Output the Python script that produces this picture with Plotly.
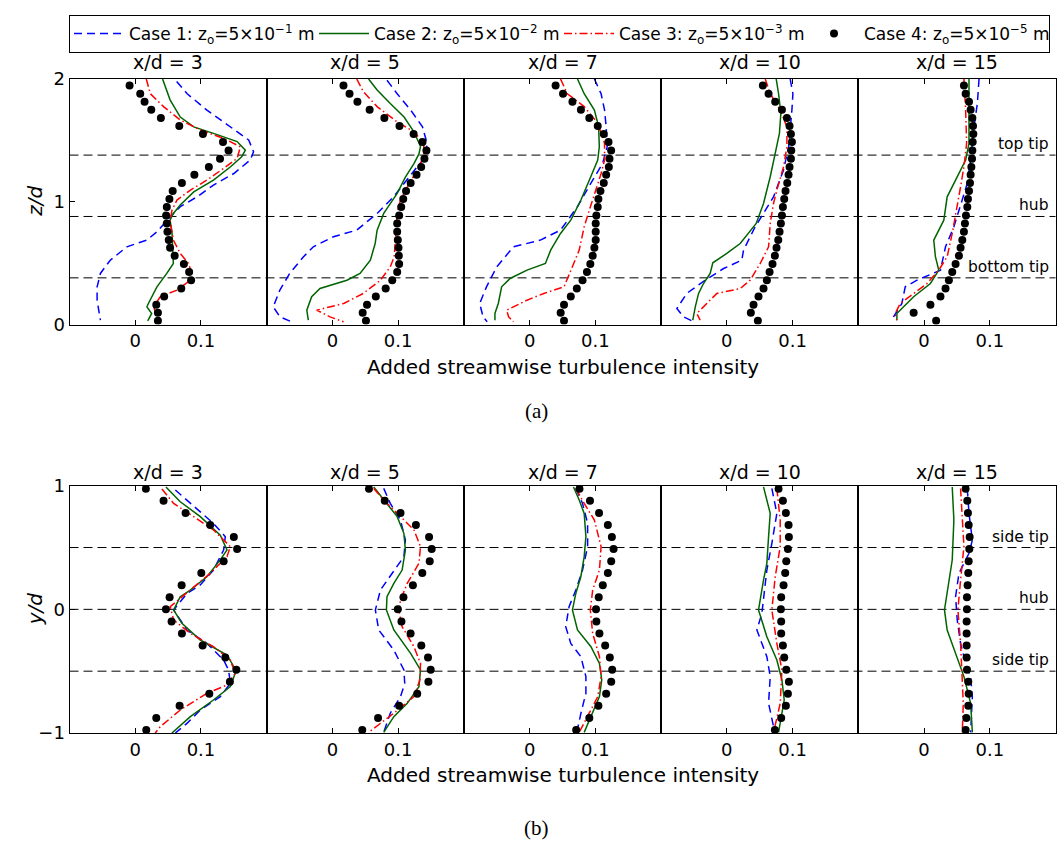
import plotly.graph_objects as go

# ---------------------------------------------------------------------------
# Data: added streamwise turbulence intensity profiles
# Lines are (value, height) pairs; LES dots share a common height grid.
# ---------------------------------------------------------------------------
downstream = ["3", "5", "7", "10", "15"]

# vertical profiles (z/d) -------------------------------------------------
z_dots = [1.948, 1.880, 1.815, 1.750, 1.682, 1.617, 1.552, 1.486, 1.418, 1.350,
          1.283, 1.220, 1.152, 1.087, 1.022, 0.957, 0.889, 0.823, 0.755, 0.688,
          0.625, 0.560, 0.492, 0.427, 0.361, 0.293, 0.228, 0.160, 0.095, 0.030]

v3_case1 = [(0.063, 1.98), (0.079, 1.88), (0.109, 1.747), (0.145, 1.61), (0.1726, 1.503),
            (0.180, 1.408), (0.175, 1.34), (0.150, 1.23), (0.119, 1.136), (0.094, 1.04),
            (0.0685, 0.96), (0.051, 0.864), (0.033, 0.755), (0.0178, 0.688), (-0.0127, 0.633),
            (-0.038, 0.524), (-0.053, 0.416), (-0.058, 0.307), (-0.058, 0.198), (-0.053, 0.035)]
v3_case2 = [(0.0416, 2.0), (0.053, 1.83), (0.0685, 1.69), (0.089, 1.61), (0.119, 1.557),
            (0.155, 1.49), (0.1675, 1.42), (0.162, 1.367), (0.145, 1.285), (0.119, 1.177),
            (0.089, 1.08), (0.0685, 0.973), (0.058, 0.905), (0.053, 0.85), (0.056, 0.742),
            (0.057, 0.633), (0.058, 0.497), (0.048, 0.416), (0.033, 0.307), (0.020, 0.171),
            (0.0178, 0.144), (0.025, 0.09), (0.019, 0.03)]
v3_case3 = [(0.0168, 2.0), (0.023, 1.88), (0.043, 1.775), (0.0685, 1.666), (0.099, 1.584),
            (0.1345, 1.516), (0.160, 1.448), (0.155, 1.353), (0.1345, 1.272), (0.109, 1.177),
            (0.084, 1.095), (0.0635, 1.014), (0.056, 0.932), (0.053, 0.85), (0.058, 0.688),
            (0.0685, 0.579), (0.081, 0.497), (0.086, 0.416), (0.0838, 0.361), (0.0635, 0.28),
            (0.038, 0.226), (0.028, 0.144), (0.033, 0.0625), (0.038, 0.008)]
v3_case4 = [-0.0086, 0.0076, 0.0142, 0.0244, 0.039, 0.067, 0.103, 0.1335, 0.142, 0.129,
            0.112, 0.090, 0.071, 0.057, 0.052, 0.048, 0.047, 0.048, 0.049, 0.051,
            0.053, 0.060, 0.074, 0.082, 0.085, 0.070, 0.044, 0.032, 0.0345, 0.0345]

v5_case1 = [(0.083, 1.99), (0.0985, 1.88), (0.119, 1.747), (0.137, 1.61), (0.144, 1.476),
            (0.142, 1.367), (0.129, 1.285), (0.109, 1.15), (0.093, 1.04), (0.068, 0.905),
            (0.037, 0.769), (0.0015, 0.715), (-0.029, 0.633), (-0.044, 0.552), (-0.065, 0.416),
            (-0.080, 0.28), (-0.090, 0.144), (-0.080, 0.0625), (-0.062, 0.022)]
v5_case2 = [(0.055, 2.0), (0.068, 1.91), (0.088, 1.80), (0.109, 1.69), (0.124, 1.57),
            (0.134, 1.45), (0.1316, 1.39), (0.124, 1.31), (0.111, 1.20), (0.0985, 1.068),
            (0.078, 0.905), (0.068, 0.769), (0.065, 0.66), (0.0577, 0.524), (0.042, 0.416),
            (0.022, 0.361), (-0.0189, 0.293), (-0.0316, 0.226), (-0.039, 0.117), (-0.0367, 0.035)]
v5_case3 = [(0.037, 2.0), (0.047, 1.897), (0.068, 1.775), (0.098, 1.652), (0.124, 1.57),
            (0.139, 1.476), (0.139, 1.367), (0.129, 1.258), (0.114, 1.122), (0.1036, 1.014),
            (0.0985, 0.905), (0.096, 0.742), (0.094, 0.552), (0.088, 0.47), (0.073, 0.361),
            (0.047, 0.253), (0.017, 0.171), (-0.024, 0.117), (-0.0036, 0.0625), (0.017, 0.022)]
v5_case4 = [0.0168, 0.026, 0.038, 0.0566, 0.079, 0.102, 0.1235, 0.137, 0.143, 0.140,
            0.135, 0.128, 0.119, 0.112, 0.1077, 0.1046, 0.1015, 0.0985, 0.0985, 0.0995,
            0.1005, 0.101, 0.1015, 0.0985, 0.091, 0.081, 0.066, 0.0526, 0.046, 0.051]

v7_case1 = [(0.0985, 2.0), (0.1087, 1.88), (0.114, 1.747), (0.1164, 1.61), (0.118, 1.448),
            (0.111, 1.312), (0.093, 1.15), (0.0728, 0.96), (0.047, 0.769), (0.0164, 0.688),
            (-0.0246, 0.633), (-0.050, 0.47), (-0.0656, 0.307), (-0.076, 0.171),
            (-0.0708, 0.0625), (-0.0646, 0.022)]
v7_case2 = [(0.0728, 2.0), (0.083, 1.88), (0.0985, 1.747), (0.105, 1.61), (0.106, 1.448),
            (0.1036, 1.34), (0.093, 1.204), (0.078, 1.014), (0.0626, 0.85), (0.047, 0.742),
            (0.032, 0.606), (0.024, 0.497), (-0.004, 0.443), (-0.0297, 0.375), (-0.0426, 0.307),
            (-0.0477, 0.171), (-0.0528, 0.0897), (-0.0528, 0.035)]
v7_case3 = [(0.047, 2.0), (0.0574, 1.88), (0.083, 1.775), (0.1036, 1.64), (0.114, 1.476),
            (0.114, 1.34), (0.1087, 1.23), (0.0985, 1.068), (0.0908, 0.932), (0.083, 0.796),
            (0.0754, 0.606), (0.065, 0.47), (0.0523, 0.307), (0.0215, 0.253), (-0.004, 0.198),
            (-0.035, 0.117), (-0.032, 0.0625), (-0.0246, 0.022)]
v7_case4 = [0.0395, 0.0508, 0.0651, 0.078, 0.0908, 0.1036, 0.1128, 0.12, 0.124, 0.1215,
            0.1205, 0.1164, 0.1128, 0.1077, 0.1046, 0.1036, 0.1015, 0.1005, 0.1005, 0.1005,
            0.0985, 0.0959, 0.0923, 0.0872, 0.0805, 0.0718, 0.0626, 0.0523, 0.0472, 0.0523]

v10_case1 = [(0.0964, 2.0), (0.1005, 1.88), (0.099, 1.747), (0.0964, 1.61), (0.094, 1.448),
             (0.0863, 1.258), (0.071, 1.04), (0.0558, 0.905), (0.0431, 0.796), (0.0254, 0.606),
             (0.0228, 0.524), (-0.005, 0.456), (-0.033, 0.361), (-0.061, 0.253), (-0.076, 0.13),
             (-0.066, 0.0625), (-0.053, 0.03)]
v10_case2 = [(0.0751, 2.0), (0.0787, 1.88), (0.0822, 1.72), (0.080, 1.557), (0.0736, 1.394),
             (0.066, 1.204), (0.0558, 0.986), (0.0447, 0.823), (0.0203, 0.66), (0.0, 0.579),
             (-0.0213, 0.503), (-0.0254, 0.416), (-0.0355, 0.334), (-0.043, 0.253),
             (-0.048, 0.144), (-0.0518, 0.035)]
v10_case3 = [(0.0584, 2.0), (0.066, 1.88), (0.0812, 1.747), (0.0914, 1.61), (0.0914, 1.448),
             (0.0863, 1.285), (0.0761, 1.095), (0.071, 0.986), (0.066, 0.823), (0.0635, 0.633),
             (0.0508, 0.497), (0.0355, 0.361), (0.0203, 0.293), (-0.0152, 0.253),
             (-0.0305, 0.171), (-0.0457, 0.0897), (-0.0406, 0.035)]
v10_case4 = [0.0548, 0.0635, 0.0736, 0.0838, 0.0914, 0.0954, 0.0975, 0.099, 0.098, 0.0975,
             0.0954, 0.0939, 0.0919, 0.0893, 0.0873, 0.0853, 0.0838, 0.0822, 0.0802, 0.0782,
             0.0756, 0.0731, 0.0695, 0.065, 0.0609, 0.0558, 0.0482, 0.0406, 0.0365, 0.0472]

v15_case1 = [(0.0837, 2.0), (0.0811, 1.80), (0.076, 1.61), (0.0709, 1.34), (0.0658, 1.15),
             (0.0582, 1.014), (0.0454, 0.796), (0.0327, 0.633), (0.025, 0.443), (-0.0107, 0.361),
             (-0.0286, 0.307), (-0.0337, 0.171), (-0.0464, 0.0625), (-0.049, 0.022)]
v15_case2 = [(0.0684, 2.0), (0.0684, 1.747), (0.0684, 1.476), (0.0633, 1.34), (0.0505, 1.204),
             (0.0352, 1.04), (0.0301, 0.85), (0.0148, 0.688), (0.0173, 0.552), (0.0224, 0.443),
             (0.0097, 0.334), (-0.0158, 0.226), (-0.0311, 0.144), (-0.0413, 0.0897),
             (-0.0413, 0.035)]
v15_case3 = [(0.0607, 2.0), (0.0633, 1.747), (0.0648, 1.476), (0.0607, 1.285), (0.0556, 1.122),
             (0.0505, 0.96), (0.0429, 0.742), (0.0352, 0.552), (0.0224, 0.443), (0.0046, 0.334),
             (-0.0158, 0.253), (-0.0362, 0.171), (-0.0439, 0.0897), (-0.0413, 0.035)]
v15_case4 = [0.0607, 0.0633, 0.0684, 0.0709, 0.0735, 0.0745, 0.075, 0.074, 0.0735, 0.073,
             0.072, 0.0709, 0.0699, 0.0684, 0.0668, 0.0658, 0.0638, 0.0622, 0.0607, 0.0582,
             0.0556, 0.0531, 0.048, 0.0429, 0.0378, 0.0327, 0.025, 0.0097, -0.0158, 0.0184]

# spanwise profiles (y/d) -------------------------------------------------
y_dots = [0.975, 0.878, 0.780, 0.683, 0.585, 0.488, 0.390, 0.293, 0.195, 0.098, 0.0,
          -0.098, -0.195, -0.293, -0.390, -0.488, -0.585, -0.683, -0.780, -0.878, -0.975]

h3_case1 = [(0.061, 0.965), (0.0838, 0.857), (0.119, 0.695), (0.137, 0.588), (0.1345, 0.48),
            (0.119, 0.318), (0.099, 0.197), (0.0787, 0.129), (0.0584, -0.005), (0.0787, -0.167),
            (0.109, -0.275), (0.1345, -0.41), (0.142, -0.49), (0.1447, -0.598), (0.1294, -0.706),
            (0.099, -0.814), (0.0787, -0.922), (0.061, -1.0)]
h3_case2 = [(0.0467, 0.99), (0.0685, 0.87), (0.099, 0.75), (0.1294, 0.60), (0.1396, 0.48),
            (0.1294, 0.40), (0.109, 0.264), (0.0838, 0.156), (0.0685, 0.102), (0.0584, -0.005),
            (0.071, -0.113), (0.099, -0.248), (0.1396, -0.369), (0.150, -0.464), (0.152, -0.518),
            (0.1447, -0.625), (0.119, -0.733), (0.0838, -0.868), (0.0558, -1.0)]
h3_case3 = [(0.0406, 0.973), (0.0584, 0.857), (0.0888, 0.75), (0.119, 0.642), (0.1447, 0.507),
            (0.1396, 0.426), (0.114, 0.291), (0.0838, 0.156), (0.0533, 0.022), (0.0584, -0.086),
            (0.0838, -0.194), (0.119, -0.302), (0.1447, -0.41), (0.152, -0.518), (0.1396, -0.612),
            (0.109, -0.679), (0.0685, -0.814), (0.038, -0.949), (0.0305, -1.0)]
h3_case4 = [0.0162, 0.0431, 0.0766, 0.114, 0.150, 0.155, 0.1345, 0.1005, 0.0706, 0.0523, 0.0467,
            0.0553, 0.071, 0.1025, 0.137, 0.1538, 0.144, 0.1127, 0.0675, 0.032, 0.0168]

h5_case1 = [(0.078, 0.978), (0.088, 0.857), (0.1036, 0.722), (0.111, 0.56), (0.1087, 0.426),
            (0.088, 0.264), (0.073, 0.156), (0.0653, -0.005), (0.0704, -0.167), (0.0934, -0.329),
            (0.1087, -0.49), (0.11, -0.598), (0.1036, -0.706), (0.088, -0.84), (0.078, -0.995)]
h5_case2 = [(0.0628, 0.99), (0.083, 0.857), (0.0985, 0.75), (0.1087, 0.615), (0.111, 0.48),
            (0.106, 0.318), (0.0934, 0.21), (0.083, 0.102), (0.0821, -0.005), (0.0934, -0.167),
            (0.1189, -0.356), (0.134, -0.49), (0.1316, -0.625), (0.1138, -0.76), (0.0934, -0.868),
            (0.078, -0.995)]
h5_case3 = [(0.0628, 0.978), (0.078, 0.884), (0.1036, 0.75), (0.124, 0.642), (0.134, 0.507),
            (0.1316, 0.372), (0.1138, 0.21), (0.1036, 0.075), (0.101, -0.005), (0.106, -0.14),
            (0.124, -0.302), (0.134, -0.437), (0.133, -0.571), (0.124, -0.706), (0.0934, -0.84),
            (0.0628, -0.962), (0.055, -0.995)]
h5_case4 = [0.0556, 0.0796, 0.1036, 0.127, 0.147, 0.151, 0.148, 0.1367, 0.1224, 0.108, 0.0995,
            0.105, 0.1189, 0.1352, 0.1454, 0.1495, 0.146, 0.129, 0.1015, 0.0694, 0.0454]

h7_case1 = [(0.0703, 0.978), (0.0805, 0.857), (0.0882, 0.695), (0.0882, 0.507), (0.0805, 0.318),
            (0.0703, 0.156), (0.06, 0.022), (0.0549, -0.14), (0.0626, -0.275), (0.078, -0.383),
            (0.0856, -0.544), (0.0856, -0.679), (0.078, -0.84), (0.0718, -0.995)]
h7_case2 = [(0.0667, 0.99), (0.0754, 0.884), (0.083, 0.776), (0.0856, 0.588), (0.083, 0.426),
            (0.0779, 0.264), (0.0703, 0.129), (0.0651, -0.005), (0.0728, -0.167), (0.0933, -0.302),
            (0.1062, -0.437), (0.1097, -0.571), (0.1062, -0.706), (0.0959, -0.84), (0.083, -0.995)]
h7_case3 = [(0.0703, 0.978), (0.083, 0.857), (0.0985, 0.722), (0.1087, 0.507), (0.1062, 0.318),
            (0.0959, 0.156), (0.0923, -0.005), (0.0959, -0.194), (0.1062, -0.383), (0.1087, -0.544),
            (0.1036, -0.706), (0.0882, -0.868), (0.0754, -0.995)]
h7_case4 = [0.0759, 0.0918, 0.1056, 0.119, 0.1251, 0.1277, 0.1241, 0.119, 0.1113, 0.1051, 0.101,
            0.1015, 0.1062, 0.1149, 0.122, 0.1256, 0.1241, 0.1164, 0.1046, 0.0908, 0.0708]

h10_case1 = [(0.0685, 0.978), (0.0761, 0.776), (0.0685, 0.534), (0.0609, 0.318), (0.0533, -0.032),
             (0.0457, -0.167), (0.0609, -0.383), (0.066, -0.544), (0.0635, -0.76), (0.0711, -0.949)]
h10_case2 = [(0.0558, 0.99), (0.066, 0.776), (0.0635, 0.588), (0.0609, 0.372), (0.0558, 0.237),
             (0.0482, -0.005), (0.0609, -0.221), (0.0761, -0.41), (0.0838, -0.571), (0.0873, -0.733),
             (0.0787, -0.995)]
h10_case3 = [(0.0761, 0.978), (0.0812, 0.722), (0.0812, 0.507), (0.0736, 0.264), (0.0685, -0.005),
             (0.0761, -0.275), (0.0838, -0.49), (0.0812, -0.76), (0.0711, -0.995)]
h10_case4 = [0.0787, 0.0853, 0.0898, 0.0939, 0.0944, 0.0929, 0.0904, 0.0888, 0.0863, 0.0827, 0.0822,
             0.0827, 0.0827, 0.0853, 0.0873, 0.0904, 0.0944, 0.0929, 0.0898, 0.0827, 0.0731]

h15_case1 = [(0.0658, 0.978), (0.0684, 0.776), (0.0735, 0.56), (0.0684, 0.453), (0.0531, 0.291),
             (0.048, 0.102), (0.0505, -0.086), (0.0556, -0.275), (0.0633, -0.437), (0.0709, -0.544),
             (0.0735, -0.706), (0.0709, -0.995)]
h15_case2 = [(0.0429, 0.99), (0.0454, 0.722), (0.0429, 0.399), (0.0352, 0.156), (0.0311, -0.005),
             (0.0352, -0.167), (0.048, -0.356), (0.0607, -0.544), (0.0709, -0.76), (0.0735, -0.995)]
h15_case3 = [(0.0556, 0.978), (0.0582, 0.776), (0.0607, 0.507), (0.0556, 0.237), (0.0515, -0.005),
             (0.0556, -0.275), (0.0582, -0.544), (0.0597, -0.76), (0.0582, -0.995)]
h15_case4 = [0.0633, 0.0658, 0.0668, 0.0679, 0.0694, 0.0689, 0.0679, 0.0673, 0.0663, 0.0653, 0.0653,
             0.0648, 0.0648, 0.0648, 0.0648, 0.0653, 0.0673, 0.0679, 0.0673, 0.0643, 0.0633]

case_names = ["Case 1: z<sub>o</sub>=5×10<sup>−1</sup> m",
              "Case 2: z<sub>o</sub>=5×10<sup>−2</sup> m",
              "Case 3: z<sub>o</sub>=5×10<sup>−3</sup> m",
              "Case 4: z<sub>o</sub>=5×10<sup>−5</sup> m"]

vertical_marks = [0.38, 0.88, 1.38]
vertical_labels = ["bottom tip", "hub", "top tip"]
spanwise_marks = [-0.5, 0.0, 0.5]
spanwise_labels = ["side tip", "hub", "side tip"]

# ---------------------------------------------------------------------------
# Layout geometry (pixels of a 1057 x 848 page)
# ---------------------------------------------------------------------------
W, H = 1057, 848
FONT = "DejaVu Sans"
col_edges = [69.5, 266.7, 463.9, 661.1, 858.3, 1055.5]
row_spans = [(79.0, 324.5), (485.7, 733.0)]
title_gap = [4, 1]


def fx(p):
    return p / W


def fy(p):
    return 1 - p / H


line_styles = [
    dict(color="#0000ff", width=1.5, dash="8px,5px"),
    dict(color="#006400", width=1.5),
    dict(color="#ff0000", width=1.5, dash="8px,3px,1.5px,3px"),
]

rows = [
    dict(profiles=[(v3_case1, v3_case2, v3_case3, v3_case4),
                   (v5_case1, v5_case2, v5_case3, v5_case4),
                   (v7_case1, v7_case2, v7_case3, v7_case4),
                   (v10_case1, v10_case2, v10_case3, v10_case4),
                   (v15_case1, v15_case2, v15_case3, v15_case4)],
         grid=z_dots, yrange=[0, 2], yticks=[0, 1, 2], title="<i>z/d</i>",
         marks=vertical_marks, labels=vertical_labels, tag="(a)", tag_y=411),
    dict(profiles=[(h3_case1, h3_case2, h3_case3, h3_case4),
                   (h5_case1, h5_case2, h5_case3, h5_case4),
                   (h7_case1, h7_case2, h7_case3, h7_case4),
                   (h10_case1, h10_case2, h10_case3, h10_case4),
                   (h15_case1, h15_case2, h15_case3, h15_case4)],
         grid=y_dots, yrange=[-1, 1], yticks=[-1, 0, 1], title="<i>y/d</i>",
         marks=spanwise_marks, labels=spanwise_labels, tag="(b)", tag_y=828),
]

fig = go.Figure()
layout = dict(
    width=W, height=H,
    margin=dict(l=0, r=0, t=0, b=0, autoexpand=False),
    paper_bgcolor="white", plot_bgcolor="rgba(0,0,0,0)",
    font=dict(family=FONT, size=18, color="black"),
    showlegend=True,
    legend=dict(orientation="h", x=fx(69), y=fy(15), xanchor="left", yanchor="top",
                bordercolor="black", borderwidth=1, bgcolor="white",
                font=dict(family=FONT, size=17), entrywidth=180, entrywidthmode="pixels",
                itemwidth=50),
)
shapes, annotations = [], []

for r, row in enumerate(rows):
    top_px, bot_px = row_spans[r]
    for c, profile in enumerate(row["profiles"]):
        n = r * 5 + c + 1
        xs, ys = f"x{n}", f"y{n}"
        xkey = "xaxis" if n == 1 else f"xaxis{n}"
        ykey = "yaxis" if n == 1 else f"yaxis{n}"
        layout[xkey] = dict(
            domain=[fx(col_edges[c]), fx(col_edges[c + 1])], anchor=ys,
            range=[-0.1, 0.2], tickvals=[0, 0.1], ticktext=["0", "0.1"],
            ticks="inside", ticklen=5, tickcolor="black", showline=True,
            linecolor="black", linewidth=1, mirror="ticks", showgrid=False,
            zeroline=False, tickfont=dict(size=18), automargin=False,
        )
        first = c == 0
        layout[ykey] = dict(
            domain=[fy(bot_px), fy(top_px)], anchor=xs, range=row["yrange"],
            tickvals=row["yticks"], ticks="inside" if first else "", ticklen=5,
            tickcolor="black", showticklabels=first, showline=True,
            linecolor="black", linewidth=1, mirror=True, showgrid=False,
            zeroline=False, tickfont=dict(size=18), automargin=False,
        )
        for k in range(3):
            pts = profile[k]
            fig.add_trace(go.Scatter(
                x=[p[0] for p in pts], y=[p[1] for p in pts], mode="lines",
                line=line_styles[k], name=case_names[k], legendgroup=f"c{k}",
                showlegend=(n == 1), xaxis=xs, yaxis=ys,
            ))
        fig.add_trace(go.Scatter(
            x=profile[3], y=row["grid"], mode="markers",
            marker=dict(color="black", size=8), name=case_names[3],
            legendgroup="c3", showlegend=(n == 1), xaxis=xs, yaxis=ys,
        ))
        annotations.append(dict(
            text=f"x/d = {downstream[c]}", xref="paper", yref="paper",
            x=fx((col_edges[c] + col_edges[c + 1]) / 2), y=fy(top_px - title_gap[r]),
            xanchor="center", yanchor="bottom", showarrow=False,
            font=dict(size=19),
        ))

    yref0 = "y" if r == 0 else "y6"
    for val, lab in zip(row["marks"], row["labels"]):
        shapes.append(dict(
            type="line", xref="paper", yref=yref0, x0=fx(col_edges[0]), x1=fx(col_edges[-1]),
            y0=val, y1=val, line=dict(color="black", width=1, dash="9px,5px"), layer="below",
        ))
        annotations.append(dict(
            text=lab, xref="paper", yref=yref0, x=fx(1051), y=val,
            xanchor="right", yanchor="bottom", showarrow=False, yshift=0,
            font=dict(size=15.5), bgcolor="rgba(0,0,0,0)",
        ))

    annotations.append(dict(
        text=row["title"], xref="paper", yref="paper", x=fx(35), y=fy((top_px + bot_px) / 2),
        xanchor="center", yanchor="middle", textangle=-90, showarrow=False,
        font=dict(size=20),
    ))
    annotations.append(dict(
        text="Added streamwise turbulence intensity", xref="paper", yref="paper",
        x=fx((col_edges[0] + col_edges[-1]) / 2), y=fy(bot_px + 42),
        xanchor="center", yanchor="middle", showarrow=False, font=dict(size=20),
    ))
    annotations.append(dict(
        text=row["tag"], xref="paper", yref="paper", x=fx(536), y=fy(row["tag_y"]),
        xanchor="center", yanchor="middle", showarrow=False,
        font=dict(family="Liberation Serif", size=21),
    ))

layout["shapes"] = shapes
layout["annotations"] = annotations
fig.update_layout(**layout)
fig.write_html("out.html")
